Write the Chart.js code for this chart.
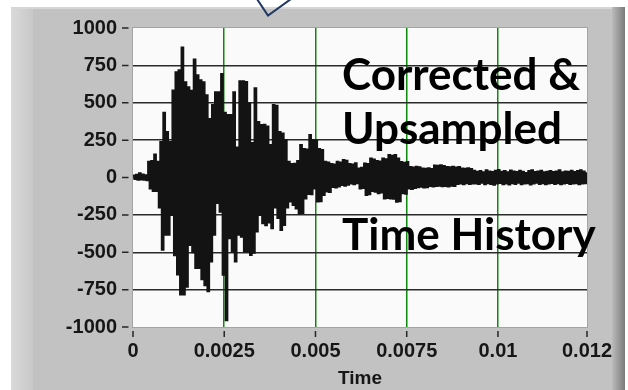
<!DOCTYPE html>
<html>
<head>
<meta charset="utf-8">
<script src="https://cdn.jsdelivr.net/npm/chart.js@4.4.1/dist/chart.umd.min.js"></script>
<style>
  html, body { margin: 0; padding: 0; background: #fff; overflow: hidden; }
  #wrap { width: 628px; height: 390px; position: relative; }
</style>
</head>
<body>
<div id="wrap"><canvas id="c" width="628" height="390"></canvas></div>
<script>
// Acceleration time history, corrected and upsampled (samples at sampleRate Hz)
const sampleRate = 24000;
const amplitude = [
  12, -10, 18, -14, 27, -12, 20, -15, 15, -18, 104, -73, 110, -90, 153, -90,
  104, -200, 237, -483, 432, -383, 304, -383, 237, -250, 581, -520, 703, -648, 716, -782,
  869, -782, 636, -730, 603, -450, 580, -500, 789, -605, 683, -605, 650, -680, 636, -720,
  550, -760, 390, -561, 485, -382, 570, -170, 570, -228, 692, -650, 432, -955, 417, -405,
  417, -494, 570, -561, 200, -382, 643, -395, 643, -494, 638, -494, 495, -517, 230, -503,
  596, -361, 370, -250, 350, -306, 352, -318, 340, -300, 217, -338, 485, -200, 480, -270,
  304, -350, 293, -317, 250, -200, 104, -160, 90, -184, 92, -206, 110, -240, 217, -236,
  190, -140, 186, -110, 283, -112, 250, -73, 246, -160, 190, -158, 184, -117, 104, -93,
  100, -96, 90, -63, 86, -66, 104, -60, 100, -50, 117, -54, 112, -48, 90, -40,
  86, -44, 95, -38, 60, -73, 64, -70, 93, -117, 90, -112, 126, -90, 120, -94,
  110, -105, 106, -100, 126, -140, 122, -136, 149, -140, 144, -142, 149, -162, 126, -158,
  103, -105, 98, -108, 103, -73, 70, -76, 66, -70, 72, -65, 68, -62, 60, -66,
  58, -64, 62, -57, 56, -60, 80, -57, 78, -54, 82, -58, 76, -56, 70, -60,
  68, -55, 72, -57, 66, -42, 70, -40, 60, -44, 58, -38, 62, -42, 56, -40,
  45, -40, 38, -42, 42, -35, 35, -45, 48, -38, 40, -42, 36, -48, 44, -40,
  50, -36, 38, -44, 42, -40, 34, -46, 46, -38, 40, -42, 36, -35, 44, -44,
  38, -40, 30, -38, 42, -46, 48, -40, 36, -34, 40, -42, 45, -38, 34, -44,
  38, -40, 42, -36, 36, -42, 40, -38, 48, -44, 34, -40, 40, -36, 38, -42,
  44, -40, 36, -38, 42, -44, 48, -40, 40, -38, 35
];

const yTickValues = [-1000, -750, -500, -250, 0, 250, 500, 750, 1000];
const xTickValues = [0, 0.0025, 0.005, 0.0075, 0.01, 0.01244];
const xTickLabels = ['0', '0.0025', '0.005', '0.0075', '0.01', '0.012'];
const xAxisTitle = 'Time';
const noteLines = ['Corrected &', 'Upsampled', 'Time History'];

const points = amplitude.map((v, i) => ({ x: i / sampleRate, y: v }));

const labelFont = { family: "'Liberation Sans', Arial, sans-serif", size: 20, weight: 'bold' };
const inkColor = '#161616';

// Panel chrome, plot background, outer tick marks, note text and callout pointer
const panelPlugin = {
  id: 'panel',
  beforeDraw(chart) {
    const ctx = chart.ctx;
    const a = chart.chartArea;
    ctx.save();
    ctx.fillStyle = '#ffffff';
    ctx.fillRect(0, 0, chart.width, chart.height);
    // grey panel
    ctx.fillStyle = '#c2c2c2';
    ctx.fillRect(11, 7, 614, 383);
    // lighter left strip
    let g = ctx.createLinearGradient(11, 0, 33, 0);
    g.addColorStop(0, '#dadada');
    g.addColorStop(1, '#c8c8c8');
    ctx.fillStyle = g;
    ctx.fillRect(11, 7, 22, 383);
    // top highlight
    ctx.fillStyle = '#d6d6d6';
    ctx.fillRect(11, 7, 614, 2);
    // darker right edge
    g = ctx.createLinearGradient(612, 0, 625, 0);
    g.addColorStop(0, '#bbbbbb');
    g.addColorStop(1, '#7a7a7a');
    ctx.fillStyle = g;
    ctx.fillRect(612, 7, 13, 383);
    // plot area
    ctx.fillStyle = '#fafafa';
    ctx.fillRect(a.left, a.top, a.right - a.left, a.bottom - a.top);
    ctx.restore();
  },
  afterDraw(chart) {
    const ctx = chart.ctx;
    const a = chart.chartArea;
    const xs = chart.scales.x, ys = chart.scales.y;
    ctx.save();
    // plot frame
    ctx.strokeStyle = '#a4a4a4';
    ctx.lineWidth = 1;
    ctx.strokeRect(a.left - 0.5, a.top - 0.5, a.right - a.left + 1, a.bottom - a.top + 1);
    // outer tick marks
    ctx.strokeStyle = '#262626';
    ctx.lineWidth = 1.5;
    ctx.beginPath();
    yTickValues.forEach(v => {
      const y = ys.getPixelForValue(v);
      ctx.moveTo(a.left - 11, y);
      ctx.lineTo(a.left - 4.5, y);
    });
    xTickValues.forEach(v => {
      const x = xs.getPixelForValue(v);
      ctx.moveTo(x, a.bottom + 4);
      ctx.lineTo(x, a.bottom + 10);
    });
    ctx.stroke();
    // note text
    ctx.fillStyle = '#000';
    ctx.font = "bold 44px Lato, 'Open Sans', sans-serif";
    ctx.textAlign = 'left';
    ctx.textBaseline = 'alphabetic';
    const baselines = [90, 144, 250];
    noteLines.forEach((t, i) => ctx.fillText(t, 342, baselines[i]));
    // callout pointer
    ctx.strokeStyle = '#1f3864';
    ctx.lineWidth = 2;
    ctx.lineJoin = 'miter';
    ctx.beginPath();
    ctx.moveTo(257, -1);
    ctx.lineTo(268, 15.5);
    ctx.lineTo(291, -1);
    ctx.stroke();
    ctx.restore();
  }
};

new Chart(document.getElementById('c'), {
  type: 'line',
  data: {
    datasets: [{
      data: points,
      borderColor: '#131313',
      borderWidth: 2.2,
      pointRadius: 0,
      stepped: true,
      fill: false
    }]
  },
  options: {
    responsive: false,
    animation: false,
    devicePixelRatio: 1,
    layout: { padding: { left: 0, right: 41, top: 24, bottom: 0 } },
    plugins: { legend: { display: false }, tooltip: { enabled: false } },
    scales: {
      x: {
        type: 'linear',
        min: 0,
        max: 0.01244,
        afterBuildTicks: s => { s.ticks = xTickValues.map(v => ({ value: v })); },
        afterFit: s => { s.height = 63; },
        ticks: {
          callback: (v, i) => xTickLabels[i],
          font: labelFont,
          color: inkColor,
          padding: 12,
          maxRotation: 0,
          autoSkip: false
        },
        grid: {
          drawTicks: false,
          lineWidth: 1.5,
          color: c => (c.tick && c.tick.value > 0 && c.tick.value < 0.012) ? '#0c8a0c' : 'rgba(0,0,0,0)'
        },
        border: { display: false },
        title: {
          display: true,
          text: xAxisTitle,
          font: { family: "'Liberation Sans', Arial, sans-serif", size: 19, weight: 'bold', lineHeight: 1.2 },
          color: inkColor,
          padding: { top: 0, bottom: 0 }
        }
      },
      y: {
        type: 'linear',
        min: -1000,
        max: 1000,
        afterBuildTicks: s => { s.ticks = yTickValues.map(v => ({ value: v })); },
        afterFit: s => { s.width = 133; },
        ticks: {
          callback: v => String(v),
          font: labelFont,
          color: inkColor,
          padding: 16
        },
        grid: {
          drawTicks: false,
          lineWidth: 1.5,
          color: c => (c.tick && Math.abs(c.tick.value) < 1000) ? '#2a2a2a' : 'rgba(0,0,0,0)'
        },
        border: { display: false }
      }
    }
  },
  plugins: [panelPlugin]
});
</script>
</body>
</html>
